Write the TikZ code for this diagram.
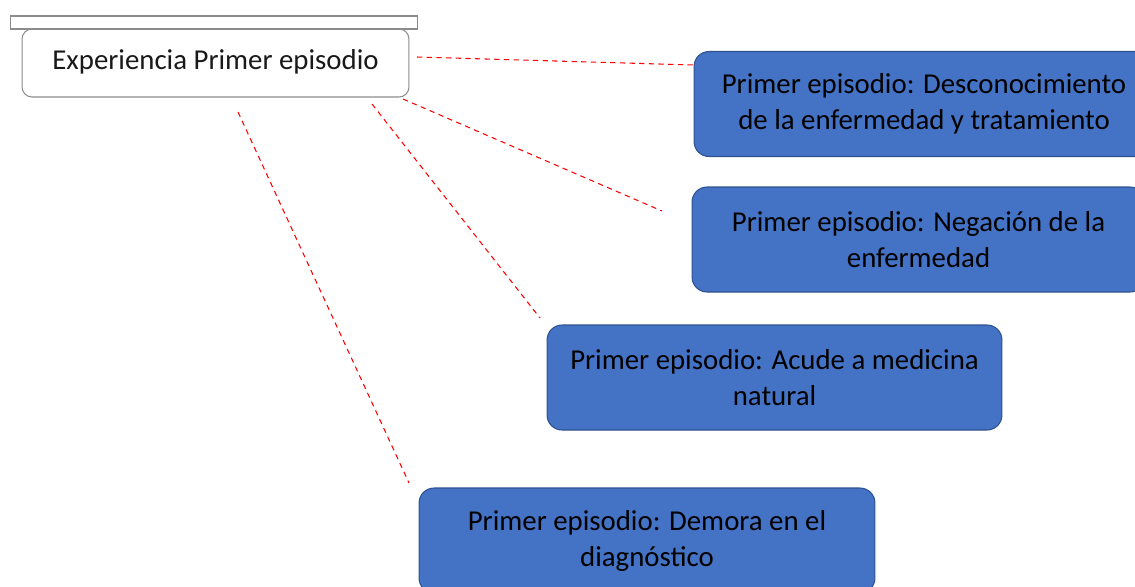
\documentclass[tikz,border=0pt]{standalone}
\usepackage{fontspec}
\setmainfont{Carlito}
\definecolor{boxblue}{HTML}{4472C4}
\definecolor{boxedge}{HTML}{2F528F}
\definecolor{grayedge}{HTML}{8C8C8C}
\begin{document}
\begin{tikzpicture}[x=0.02cm,y=-0.02cm,
  bluebox/.style={draw=boxedge, line width=0.6pt, fill=boxblue, rounded corners=0.3cm,
    minimum height=2.1cm, align=center, inner sep=0pt, font=\fontsize{16.4}{20.5}\selectfont, text=black},
  mainbox/.style={draw=grayedge, line width=0.6pt, fill=white, rounded corners=0.2cm,
    minimum width=7.74cm, minimum height=1.36cm, inner sep=0pt, font=\fontsize{16.4}{20.5}\selectfont, text=black!90},
  link/.style={draw=red, dashed, line width=0.6pt, dash pattern=on 3pt off 2.5pt}]
\useasboundingbox (0,0) rectangle (1135,586);
\node[mainbox] (main) at (215.5,63) {\raisebox{4pt}{Experiencia Primer episodio}};
\node[draw=grayedge, line width=0.6pt, fill=white, minimum width=8.16cm, minimum height=0.26cm, inner sep=0pt] (cap) at (214,22.5) {};
\node[bluebox, minimum width=9.2cm] (b1) at (924,104) {Primer episodio: Desconocimiento\\de la enfermedad y tratamiento};
\node[bluebox, minimum width=9.06cm] (b2) at (918.5,239.5) {Primer episodio: Negación de la\\enfermedad};
\node[bluebox, minimum width=9.1cm] (b3) at (774.5,377.5) {Primer episodio: Acude a medicina\\natural};
\node[bluebox, minimum width=9.12cm] (b4) at (647,540.5) {Primer episodio: Demora en el\\diagnóstico};
\coordinate (s1) at (417,57);  \coordinate (e1) at (694,65);
\coordinate (s2) at (403,99);  \coordinate (e2) at (662,211);
\coordinate (s3) at (372,104); \coordinate (e3) at (540,318);
\coordinate (s4) at (238,112); \coordinate (e4) at (409,483);
\draw[link] (s1) -- (e1);
\draw[link] (s2) -- (e2);
\draw[link] (s3) -- (e3);
\draw[link] (s4) -- (e4);
\end{tikzpicture}
\end{document}
